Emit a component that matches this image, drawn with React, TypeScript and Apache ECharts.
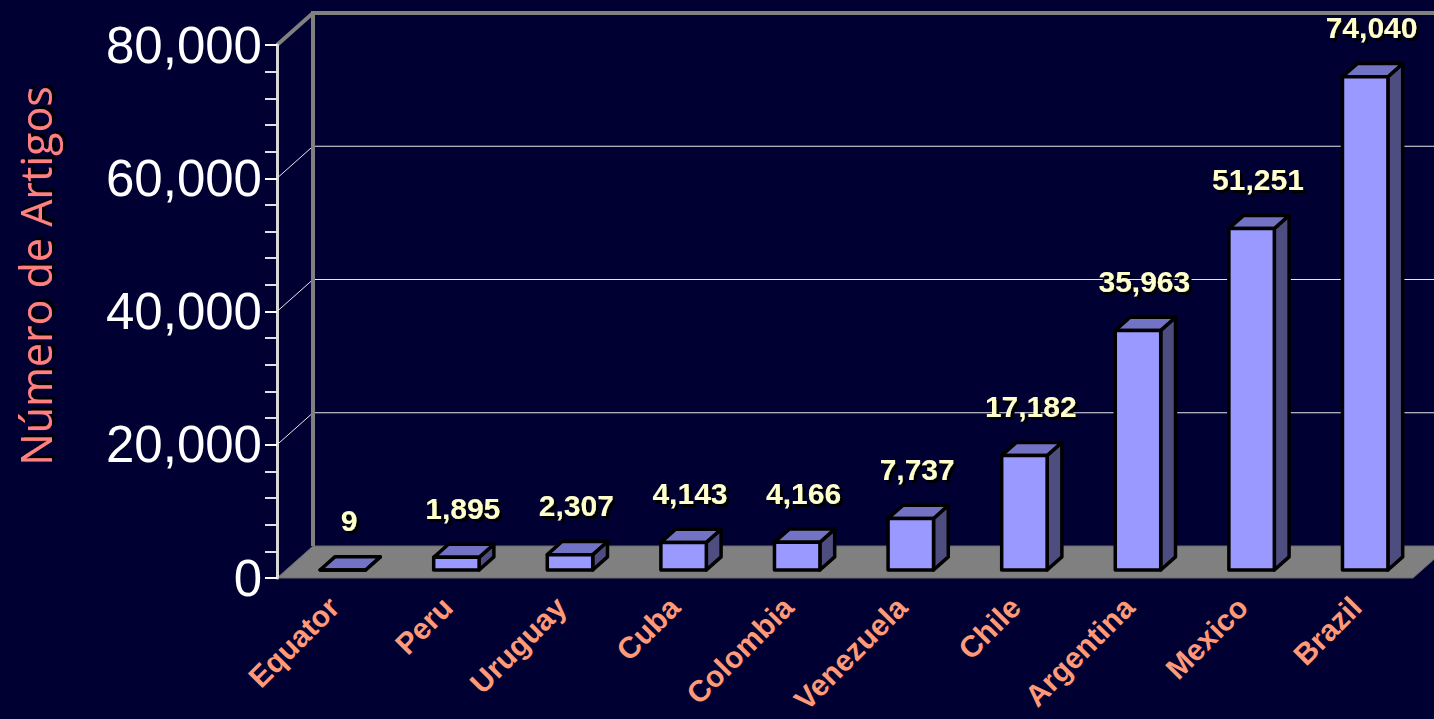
import React, { useEffect, useRef } from 'react';
import * as echarts from 'echarts';

const categories = ['Equator', 'Peru', 'Uruguay', 'Cuba', 'Colombia', 'Venezuela', 'Chile', 'Argentina', 'Mexico', 'Brazil'];
const values = [9, 1895, 2307, 4143, 4166, 7737, 17182, 35963, 51251, 74040];
const gridValues = [20000, 40000, 60000];
const yMax = 80000;
const yInterval = 20000;
const axisTitle = 'Número de Artigos';

const DX = 36;
const DY = -32;
const F0 = 0.25;
const F1 = 0.66;

const fmt = (v: number) => v.toLocaleString('en-US');

export default function App() {
  const ref = useRef<HTMLDivElement>(null);
  useEffect(() => {
    document.body.style.margin = '0';
    const chart = echarts.init(ref.current!, null, { renderer: 'svg' });
    const option: any = {
      animation: false,
      backgroundColor: '#000033',
      grid: { left: 277, top: 45, width: 1136, height: 533 },
      xAxis: {
        type: 'category',
        data: categories,
        axisLine: { show: false },
        axisTick: { show: false },
        axisLabel: {
          rotate: 45,
          margin: 24,
          interval: 0,
          color: '#FF9977',
          fontSize: 30,
          fontWeight: 'bold',
          fontFamily: 'Liberation Sans, Arial, sans-serif',
        },
      },
      yAxis: {
        type: 'value',
        min: 0,
        max: yMax,
        interval: yInterval,
        z: 10,
        axisLine: { show: true, lineStyle: { color: '#D8D8D8', width: 3 } },
        axisTick: { show: true, length: 12, lineStyle: { color: '#FFFFFF', width: 2 } },
        minorTick: { show: true, splitNumber: 5, length: 12, lineStyle: { color: '#E0E0E0', width: 2 } },
        splitLine: { show: false },
        axisLabel: {
          margin: 15,
          color: '#FFFFFF',
          fontSize: 51,
          fontFamily: 'Liberation Sans, Arial, sans-serif',
          formatter: (v: number) => fmt(v),
        },
      },
      graphic: [
        {
          type: 'text',
          x: 35,
          y: 276,
          rotation: Math.PI / 2,
          style: {
            text: axisTitle,
            align: 'center',
            verticalAlign: 'middle',
            fill: '#FF8080',
            fontSize: 43,
            fontFamily: 'Open Sans, DejaVu Sans, sans-serif',
            textShadowColor: '#000000',
            textShadowOffsetX: 3,
            textShadowOffsetY: 3,
            textShadowBlur: 0.5,
          },
        },
      ],
      series: [
        {
          type: 'custom',
          z: 1,
          silent: true,
          data: [[0, 0]],
          renderItem: (params: any, api: any) => {
            const cs = params.coordSys;
            const x = cs.x, y = cs.y, w = cs.width, h = cs.height;
            const yb = y + h;
            const children: any[] = [];
            children.push({
              type: 'polygon',
              shape: { points: [[x, yb], [x + DX, yb + DY], [x + w + DX, yb + DY], [x + w, yb]] },
              style: { fill: '#808080', stroke: '#6a6a6a', lineWidth: 1 },
            });
            gridValues.forEach((v) => {
              const py = api.coord([0, v])[1];
              children.push({
                type: 'line',
                shape: { x1: x + DX, y1: py + DY, x2: x + w + DX, y2: py + DY },
                style: { stroke: '#E8E8E8', lineWidth: 1 },
              });
              children.push({
                type: 'line',
                shape: { x1: x, y1: py, x2: x + DX, y2: py + DY },
                style: { stroke: '#E8E8E8', lineWidth: 1 },
              });
            });
            children.push({
              type: 'polyline',
              shape: { points: [[x + DX, yb + DY], [x + DX, y + DY], [x + w + DX, y + DY]] },
              style: { stroke: '#808080', lineWidth: 4, fill: 'none' },
            });
            children.push({
              type: 'line',
              shape: { x1: x, y1: y, x2: x + DX, y2: y + DY },
              style: { stroke: '#808080', lineWidth: 4 },
            });
            return { type: 'group', children };
          },
        },
        {
          type: 'custom',
          z: 5,
          data: values.map((v, i) => [i, v]),
          encode: { x: 0, y: 1 },
          renderItem: (params: any, api: any) => {
            const i = api.value(0);
            const v = api.value(1);
            const p0 = api.coord([i, 0]);
            const p1 = api.coord([i, v]);
            const bw = api.size([1, 0])[0] * 0.4;
            const xl = p0[0] - bw / 2 + F0 * DX;
            const xr = xl + bw;
            const yb = p0[1] + F0 * DY;
            const yt = p1[1] + F0 * DY;
            const ddx = (F1 - F0) * DX;
            const ddy = (F1 - F0) * DY;
            const stroke = { stroke: '#000000', lineWidth: 3.5, lineJoin: 'round' };
            return {
              type: 'group',
              children: [
                {
                  type: 'polygon',
                  shape: { points: [[xr, yt], [xr, yb], [xr + ddx, yb + ddy], [xr + ddx, yt + ddy]] },
                  style: { fill: '#4D4D80', ...stroke },
                },
                {
                  type: 'polygon',
                  shape: { points: [[xl, yt], [xr, yt], [xr + ddx, yt + ddy], [xl + ddx, yt + ddy]] },
                  style: { fill: '#7373C6', ...stroke },
                },
                {
                  type: 'rect',
                  shape: { x: xl, y: yt, width: bw, height: Math.max(yb - yt, 0) },
                  style: { fill: '#9999FF', ...stroke },
                },
                {
                  type: 'text',
                  style: {
                    text: fmt(v),
                    x: (xl + xr) / 2 + ddx / 2 - 1,
                    y: yt + ddy - 36,
                    align: 'center',
                    verticalAlign: 'middle',
                    fill: '#FFFFCC',
                    fontSize: 30,
                    fontWeight: 'bold',
                    fontFamily: 'Liberation Sans, Arial, sans-serif',
                    textShadowColor: '#000000',
                    textShadowOffsetX: 3,
                    textShadowOffsetY: 3,
                    textShadowBlur: 0.5,
                  },
                },
              ],
            };
          },
        },
      ],
    };
    chart.setOption(option);
    return () => chart.dispose();
  }, []);
  return <div ref={ref} style={{ position: 'fixed', left: 0, top: 0, width: 1434, height: 719 }} />;
}
